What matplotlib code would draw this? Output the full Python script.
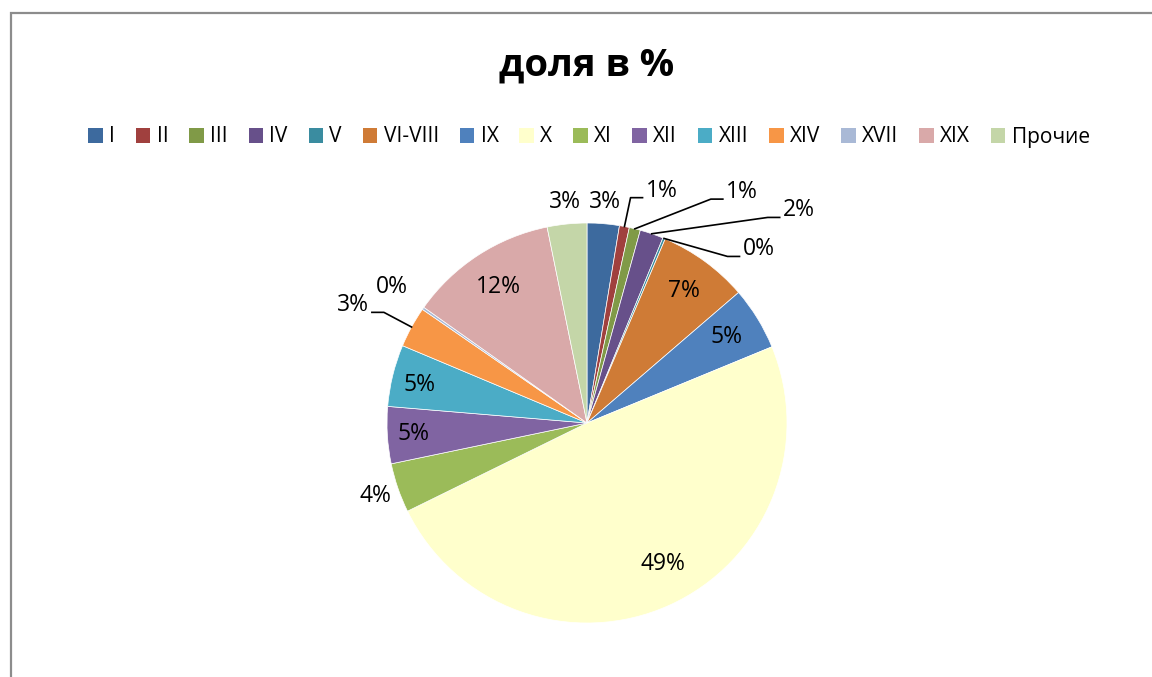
import numpy as np
import matplotlib
matplotlib.use("Agg")
import matplotlib.pyplot as plt
from matplotlib.patches import Rectangle, Patch

plt.rcParams['font.family'] = ['Open Sans', 'DejaVu Sans']

# data (share in %)
categories = ["I", "II", "III", "IV", "V", "VI-VIII", "IX", "X", "XI", "XII",
              "XIII", "XIV", "XVII", "XIX", "Прочие"]
shares = [2.6, 0.8, 0.9, 1.9, 0.2, 7.3, 5.1, 49.0, 4.0, 4.6, 5.0, 3.3, 0.2, 12.0, 3.2]
colors = ["#3D6A9E", "#A0403E", "#809A47", "#67508A", "#3A8CA0", "#CF7B36",
          "#4F81BD", "#FFFFCC", "#9BBB59", "#8064A2", "#4BACC6", "#F79646",
          "#A9B9D6", "#D9A9A9", "#C4D6A8"]

# label placement: radius (in pie radii) and angle shift (deg, clockwise)
label_r = [1.11, 1.22, 1.39, 1.50, 1.22, 0.82, 0.82, 0.80, 1.12, 0.87,
           0.86, 1.31, 1.19, 0.81, 1.11]
label_shift = [0, 7, 20, 26, 22, 0, 0, -4, 0, 0, -1, -2, 0, 0, 0]
leader = [False, True, True, True, True, False, False, False, False, False,
          False, True, False, False, False]

W, H = 1152, 677
fig = plt.figure(figsize=(W / 100, H / 100), dpi=100)
ax = fig.add_axes([0, 0, 1, 1])
cx, cy, R = 587, 423, 200  # pixels

wedges, _ = ax.pie(shares, colors=colors, startangle=90, counterclock=False,
                   radius=1.0, wedgeprops=dict(linewidth=0.5, edgecolor="white"))
ax.set_aspect("auto")
ax.set_xlim(-cx / R, (W - cx) / R)
ax.set_ylim(-(H - cy) / R, cy / R)
ax.axis("off")

total = sum(shares)
start = 0.0
for i, v in enumerate(shares):
    mid = start + v / total * 360 / 2
    start += v / total * 360
    ang = np.deg2rad(mid + label_shift[i])
    tx, ty = label_r[i] * np.sin(ang), label_r[i] * np.cos(ang)
    ax.text(tx, ty, f"{round(v):.0f}%", ha="center", va="center", fontsize=16.5)
    if leader[i]:
        m = np.deg2rad(mid)
        ex, ey = np.sin(m), np.cos(m)
        side = 1 if tx > 0 else -1
        hy = ty - 0.035
        hx_near = tx - side * 0.095
        hx_far = hx_near - side * 0.06
        ax.plot([ex, hx_far, hx_near], [ey, hy, hy], color="black", lw=1.2)

fig.text(587 / W, 1 - 66 / H, "доля в %", ha="center", va="center",
         fontsize=27.5, fontweight="bold")

handles = [Patch(facecolor=c, edgecolor="none") for c in colors]
fig.legend(handles, categories, loc="center", bbox_to_anchor=(589 / W, 1 - 137 / H),
           ncol=len(categories), frameon=False, fontsize=15, handlelength=0.7,
           handleheight=0.7, handletextpad=0.3, columnspacing=1.0)

fig.patches.append(Rectangle((11 / W, -0.01), 1.1, 1 - 13 / H + 0.01,
                             transform=fig.transFigure, fill=False,
                             edgecolor="#8C8C8C", linewidth=1.6))

fig.savefig("out.png", dpi=100)
